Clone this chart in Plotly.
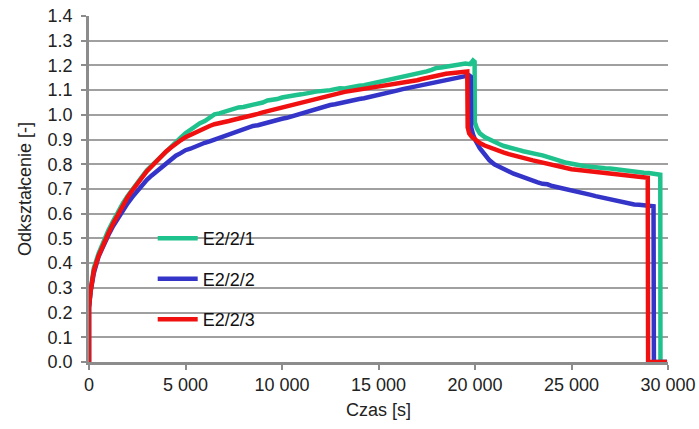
import plotly.graph_objects as go

names = ["E2/2/1", "E2/2/2", "E2/2/3"]
colors = ["#1fc28c", "#3434c8", "#f01010"]

t_start = [0, 0, 80, 160]
v_start = [0.0, 0.22, 0.285, 0.33]

t_load = [250, 500, 750, 1000, 1250, 1500, 1750, 2000, 2250, 2500, 2750, 3000, 3250, 3500, 3750, 4000,
          4250, 4500, 4750, 5000, 5250, 5500, 5750, 6000, 6250, 6500, 6750, 7000, 7250, 7500, 7750, 8000,
          8250, 8500, 8750, 9000, 9250, 9500, 9750, 10000, 10250, 10500, 10750, 11000, 11250, 11500, 11750,
          12000, 12250, 12500, 12750, 13000, 13250, 13500, 13750, 14000, 14250, 14500, 14750, 15000, 15250,
          15500, 15750, 16000, 16250, 16500, 16750, 17000, 17250, 17500, 17750, 18000, 18250, 18500, 18750,
          19000, 19250, 19500]

green_load = [0.38, 0.44, 0.49, 0.532, 0.57, 0.608, 0.642, 0.672, 0.70, 0.728, 0.75, 0.776, 0.795, 0.817,
              0.832, 0.857, 0.874, 0.893, 0.908, 0.926, 0.94, 0.952, 0.966, 0.975, 0.99, 1.002, 1.006, 1.012,
              1.02, 1.022, 1.03, 1.032, 1.036, 1.042, 1.046, 1.05, 1.058, 1.06, 1.064, 1.07, 1.072, 1.076,
              1.08, 1.083, 1.085, 1.09, 1.094, 1.095, 1.099, 1.1, 1.104, 1.108, 1.107, 1.112, 1.116, 1.118,
              1.12, 1.124, 1.128, 1.132, 1.138, 1.142, 1.146, 1.152, 1.154, 1.16, 1.163, 1.166, 1.172, 1.176,
              1.182, 1.19, 1.192, 1.196, 1.198, 1.202, 1.204, 1.208]
blue_load = [0.36, 0.428, 0.475, 0.513, 0.55, 0.583, 0.613, 0.642, 0.668, 0.693, 0.715, 0.737, 0.755, 0.772,
             0.79, 0.806, 0.82, 0.835, 0.845, 0.857, 0.863, 0.872, 0.879, 0.887, 0.893, 0.9, 0.907, 0.915,
             0.922, 0.93, 0.936, 0.944, 0.949, 0.955, 0.958, 0.964, 0.968, 0.974, 0.978, 0.984, 0.988, 0.994,
             1.0, 1.005, 1.01, 1.018, 1.023, 1.028, 1.034, 1.04, 1.043, 1.048, 1.052, 1.055, 1.06, 1.064,
             1.067, 1.071, 1.076, 1.08, 1.085, 1.09, 1.094, 1.099, 1.104, 1.108, 1.112, 1.116, 1.12, 1.122,
             1.125, 1.13, 1.133, 1.138, 1.142, 1.147, 1.152, 1.157]
red_load = [0.37, 0.43, 0.48, 0.52, 0.56, 0.598, 0.633, 0.667, 0.695, 0.722, 0.746, 0.772, 0.792, 0.813,
            0.832, 0.852, 0.868, 0.885, 0.897, 0.91, 0.92, 0.93, 0.938, 0.947, 0.955, 0.962, 0.965, 0.972,
            0.975, 0.98, 0.984, 0.988, 0.993, 0.998, 1.004, 1.01, 1.015, 1.02, 1.026, 1.031, 1.036, 1.04,
            1.046, 1.05, 1.056, 1.06, 1.066, 1.07, 1.076, 1.08, 1.085, 1.09, 1.093, 1.096, 1.099, 1.101,
            1.103, 1.106, 1.11, 1.113, 1.116, 1.12, 1.123, 1.126, 1.128, 1.132, 1.136, 1.14, 1.145, 1.15,
            1.155, 1.16, 1.162, 1.166, 1.168, 1.17, 1.173, 1.176]

green_rec_t = [19750, 19900, 19980, 19990, 20100, 20250, 20500, 20750, 21000, 21250, 21500, 21750, 22000,
               22250, 22500, 22750, 23000, 23250, 23500, 23750, 24000, 24250, 24500, 24750, 25000, 25250,
               25500, 25750, 26000, 26250, 26500, 26750, 27000, 27250, 27500, 27750, 28000, 28250, 28500,
               28750, 29000, 29250, 29500, 29600, 29610, 29950]
green_rec_v = [1.205, 1.22, 1.215, 0.97, 0.945, 0.925, 0.91, 0.9, 0.888, 0.882, 0.874, 0.87, 0.863, 0.858,
               0.853, 0.85, 0.844, 0.84, 0.836, 0.831, 0.826, 0.818, 0.812, 0.806, 0.801, 0.798, 0.795, 0.792,
               0.789, 0.789, 0.786, 0.784, 0.783, 0.78, 0.779, 0.776, 0.773, 0.771, 0.768, 0.766, 0.765, 0.762,
               0.76, 0.758, 0.0, 0.0]

blue_rec_t = [19700, 19780, 19800, 19900, 20000, 20250, 20500, 20750, 21000, 21250, 21500, 21750, 22000,
              22250, 22500, 22750, 23000, 23250, 23500, 23750, 24000, 24250, 24500, 24750, 25000, 25250,
              25500, 25750, 26000, 26250, 26500, 26750, 27000, 27250, 27500, 27750, 28000, 28250, 28500,
              28750, 29000, 29250, 29270, 29950]
blue_rec_v = [1.16, 1.155, 0.95, 0.92, 0.9, 0.865, 0.837, 0.816, 0.8, 0.79, 0.779, 0.771, 0.762, 0.755,
              0.747, 0.741, 0.733, 0.727, 0.721, 0.719, 0.712, 0.708, 0.703, 0.7, 0.695, 0.69, 0.686, 0.681,
              0.676, 0.671, 0.667, 0.661, 0.656, 0.651, 0.647, 0.643, 0.64, 0.637, 0.636, 0.634, 0.633, 0.63,
              0.0, 0.0]

red_rec_t = [19600, 19620, 19700, 19850, 20000, 20250, 20500, 20750, 21000, 21250, 21500, 21750, 22000,
             22250, 22500, 22750, 23000, 23250, 23500, 23750, 24000, 24250, 24500, 24750, 25000, 25250,
             25500, 25750, 26000, 26250, 26500, 26750, 27000, 27250, 27500, 27750, 28000, 28250, 28500,
             28750, 28950, 28970, 29950]
red_rec_v = [1.175, 0.95, 0.925, 0.91, 0.9, 0.886, 0.876, 0.868, 0.86, 0.853, 0.847, 0.841, 0.837, 0.831,
             0.826, 0.821, 0.816, 0.811, 0.806, 0.801, 0.796, 0.791, 0.787, 0.783, 0.78, 0.778, 0.776, 0.773,
             0.771, 0.769, 0.768, 0.766, 0.765, 0.762, 0.76, 0.757, 0.755, 0.752, 0.75, 0.747, 0.745, 0.0, 0.0]

series = [
    (green_load, green_rec_t, green_rec_v),
    (blue_load, blue_rec_t, blue_rec_v),
    (red_load, red_rec_t, red_rec_v),
]

font = "Liberation Sans, Arial, sans-serif"
fig = go.Figure()
for i, (load, rt, rv) in enumerate(series):
    x = t_start + t_load + rt
    y = v_start + load + rv
    fig.add_trace(go.Scatter(x=x, y=y, mode="lines", name=names[i], legendgroup=names[i],
                             line=dict(color=colors[i], width=4.5)))

fig.update_layout(
    width=699, height=429,
    margin=dict(l=89, r=31, t=16, b=67),
    paper_bgcolor="white", plot_bgcolor="white",
    separators=". ",
    font=dict(family=font, size=18, color="#222222"),
    showlegend=True,
    legend=dict(x=0.11, y=0.41, xanchor="left", yanchor="top", bgcolor="rgba(0,0,0,0)",
                font=dict(size=18, color="#111111"), tracegroupgap=14, itemwidth=40),
    xaxis=dict(range=[0, 30000], tickvals=[0, 5000, 10000, 15000, 20000, 25000, 30000],
               tickformat=",d", showgrid=False, zeroline=False, automargin=False,
               showline=True, linecolor="#8c8c8c", linewidth=2.5,
               ticks="outside", ticklen=5, tickcolor="#8c8c8c", tickwidth=1.5,
               title=dict(text="Czas [s]", standoff=10, font=dict(size=18))),
    yaxis=dict(range=[0, 1.4], dtick=0.1, tickformat=".1f", showgrid=True,
               gridcolor="#a0a0a0", gridwidth=1.5, zeroline=False, automargin=False,
               showline=True, linecolor="#8c8c8c", linewidth=2.5,
               ticks="outside", ticklen=5, tickcolor="#8c8c8c", tickwidth=1.5,
               ticklabelstandoff=5,
               title=dict(text="Odkształcenie [-]", standoff=12, font=dict(size=18))),
)

fig.write_html("out.html")
